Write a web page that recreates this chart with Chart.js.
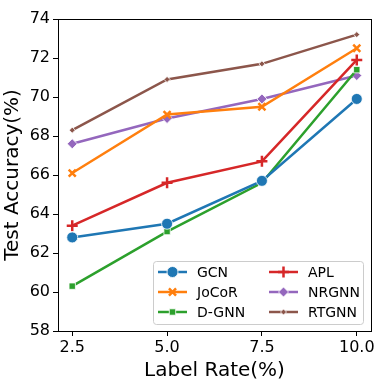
<!DOCTYPE html>
<html><head><meta charset="utf-8">
<script src="https://cdn.jsdelivr.net/npm/chart.js@4/dist/chart.umd.min.js"></script>
<style>html,body{margin:0;padding:0;background:#fff}#wrap{width:390px;height:390px}</style>
</head><body><div id="wrap"><canvas id="c" width="390" height="390"></canvas></div>
<script>
const labelRates = [2.5, 5.0, 7.5, 10.0];
const seriesNames = ['GCN', 'JoCoR', 'D-GNN', 'APL', 'NRGNN', 'RTGNN'];
const gcn   = [62.8, 63.5, 65.7, 69.9];
const jocor = [66.1, 69.1, 69.5, 72.5];
const dgnn  = [60.3, 63.1, 65.6, 71.4];
const apl   = [63.4, 65.6, 66.7, 71.9];
const nrgnn = [67.6, 68.9, 69.9, 71.1];
const rtgnn = [68.3, 70.9, 71.7, 73.2];
const yTicks = [58, 60, 62, 64, 66, 68, 70, 72, 74];

const colors = ['#1f77b4', '#ff7f0e', '#2ca02c', '#d62728', '#9467bd', '#8c564b'];
const styles = ['circle', 'crossRot', 'rect', 'cross', 'rectRot', 'rectRot'];
const radii  = [5.5, 5, 4.5, 5.5, 5, 3];
const allData = [gcn, jocor, dgnn, apl, nrgnn, rtgnn];

const datasets = allData.map((vals, i) => ({
  label: seriesNames[i],
  data: vals.map((v, j) => ({x: labelRates[j], y: v})),
  borderColor: colors[i],
  backgroundColor: colors[i],
  pointBackgroundColor: colors[i],
  pointBorderColor: (styles[i] === 'cross' || styles[i] === 'crossRot') ? colors[i] : '#ffffff',
  pointBorderWidth: (styles[i] === 'cross' || styles[i] === 'crossRot') ? 2.5 : 0.8,
  pointStyle: styles[i],
  pointRadius: radii[i],
  borderWidth: 2.5,
  tension: 0
}));

const frame = {
  id: 'frame',
  afterDatasetsDraw(chart) {
    const {ctx, chartArea: a} = chart;
    ctx.save();
    ctx.strokeStyle = '#000';
    ctx.lineWidth = 1;
    ctx.strokeRect(Math.round(a.left) + 0.5, Math.round(a.top) + 0.5, Math.round(a.right - a.left), Math.round(a.bottom - a.top));
    // legend
    const bx = 153, by = 261, bw = 210, bh = 63;
    ctx.fillStyle = 'rgba(255,255,255,0.8)';
    ctx.strokeStyle = '#cccccc';
    ctx.lineWidth = 1;
    ctx.beginPath();
    if (ctx.roundRect) ctx.roundRect(bx + 0.5, by + 0.5, bw, bh, 3); else ctx.rect(bx + 0.5, by + 0.5, bw, bh);
    ctx.fill(); ctx.stroke();
    ctx.font = '14px "DejaVu Sans"';
    ctx.textBaseline = 'middle';
    ctx.textAlign = 'left';
    chart.data.datasets.forEach((ds, i) => {
      const col = Math.floor(i / 3), row = i % 3;
      const x0 = 158 + col * 111, y0 = 272 + row * 20;
      ctx.strokeStyle = ds.borderColor;
      ctx.lineWidth = 2.5;
      ctx.beginPath(); ctx.moveTo(x0, y0); ctx.lineTo(x0 + 29, y0); ctx.stroke();
      ctx.lineWidth = ds.pointBorderWidth;
      ctx.fillStyle = ds.pointBackgroundColor;
      ctx.strokeStyle = ds.pointBorderColor;
      Chart.helpers.drawPoint(ctx, {pointStyle: ds.pointStyle, radius: ds.pointRadius, borderWidth: ds.pointBorderWidth, rotation: 0}, x0 + 14.5, y0);
      ctx.fillStyle = '#000';
      ctx.fillText(ds.label, x0 + 39, y0 + 1);
    });
    ctx.restore();
  }
};

new Chart(document.getElementById('c'), {
  type: 'line',
  data: {datasets},
  plugins: [frame],
  options: {
    responsive: false,
    animation: false,
    layout: {padding: {left: 0, top: 19, right: 19, bottom: 0}},
    plugins: {legend: {display: false}, tooltip: {enabled: false}},
    scales: {
      x: {
        type: 'linear', min: 2.125, max: 10.375,
        afterBuildTicks: s => { s.ticks = labelRates.map(v => ({value: v})); },
        afterFit: s => { s.height = 59; },
        grid: {display: true, drawOnChartArea: false, drawTicks: true, tickLength: 5, color: '#000'},
        border: {display: true, color: '#000'},
        ticks: {color: '#000', font: {family: 'DejaVu Sans', size: 16}, padding: 2, callback: v => Number(v).toFixed(1)},
        title: {display: true, text: 'Label Rate(%)', color: '#000', font: {family: 'DejaVu Sans', size: 20}, padding: {top: 0, bottom: 7}}
      },
      y: {
        type: 'linear', min: 58, max: 74,
        afterBuildTicks: s => { s.ticks = yTicks.map(v => ({value: v})); },
        afterFit: s => { s.width = 58; },
        grid: {display: true, drawOnChartArea: false, drawTicks: true, tickLength: 5, color: '#000'},
        border: {display: true, color: '#000'},
        ticks: {color: '#000', font: {family: 'DejaVu Sans', size: 16}, padding: 3},
        title: {display: true, text: 'Test Accuracy(%)', color: '#000', font: {family: 'DejaVu Sans', size: 20}, padding: {top: 1, bottom: 0}}
      }
    }
  }
});
</script></body></html>
